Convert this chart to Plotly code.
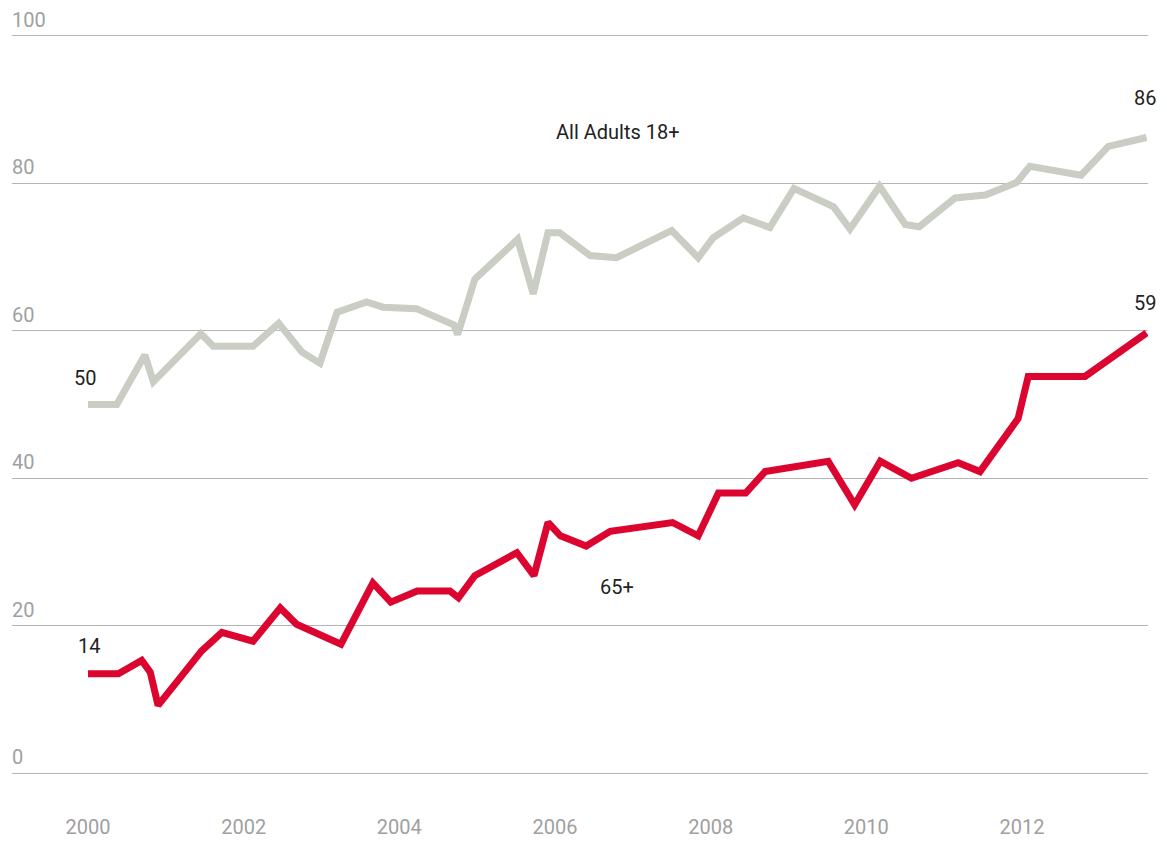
import plotly.graph_objects as go

# Data
adults_x = [2000.0, 2000.37, 2000.73, 2000.84, 2001.45, 2001.61, 2002.12, 2002.45, 2002.75, 2002.98,
            2003.2, 2003.58, 2003.79, 2004.22, 2004.70, 2004.75, 2004.97, 2005.52, 2005.72, 2005.91,
            2006.06, 2006.45, 2006.79, 2007.5, 2007.84, 2008.03, 2008.42, 2008.76, 2009.07, 2009.58,
            2009.79, 2010.17, 2010.5, 2010.68, 2011.14, 2011.53, 2011.93, 2012.1, 2012.76, 2013.11, 2013.6]
adults_y = [50, 50, 56.7, 53.1, 59.6, 57.9, 57.9, 61.0, 57.1, 55.6,
            62.5, 63.9, 63.2, 63.0, 60.8, 59.5, 67.0, 72.4, 65.0, 73.3,
            73.3, 70.2, 69.9, 73.6, 69.9, 72.6, 75.3, 74.0, 79.3, 76.8,
            73.8, 79.6, 74.4, 74.1, 78.0, 78.4, 80.1, 82.3, 81.1, 85.0, 86.2]

senior_x = [2000.0, 2000.39, 2000.69, 2000.8, 2000.9, 2001.46, 2001.72, 2002.12, 2002.47, 2002.68,
            2003.25, 2003.66, 2003.89, 2004.23, 2004.65, 2004.76, 2004.97, 2005.51, 2005.73, 2005.91,
            2006.07, 2006.4, 2006.71, 2007.51, 2007.84, 2008.1, 2008.45, 2008.7, 2009.51, 2009.85,
            2010.18, 2010.58, 2011.18, 2011.46, 2011.95, 2012.08, 2012.81, 2013.6]
senior_y = [13.5, 13.5, 15.3, 13.7, 9.2, 16.6, 19.1, 17.9, 22.4, 20.2,
            17.5, 25.8, 23.2, 24.7, 24.7, 23.8, 26.8, 29.9, 26.8, 34.0,
            32.2, 30.8, 32.8, 34.0, 32.2, 38.0, 38.0, 40.9, 42.3, 36.4,
            42.3, 40.0, 42.1, 40.9, 48.1, 53.8, 53.8, 59.7]

y_ticks = [0, 20, 40, 60, 80, 100]
x_ticks = [2000, 2002, 2004, 2006, 2008, 2010, 2012]
x_tick_labels = ["2000", "2002", "2004", "2006", "2008", "2010", "2012"]

series_labels = ["All Adults 18+", "65+"]
start_labels = ["50", "14"]
end_labels = ["86", "59"]

GRAY = "#c9cdc4"
RED = "#dc0530"
TXT = "#222222"
TICK = "#a0a0a0"
FONT = "Roboto, sans-serif"
FS = 20

fig = go.Figure()
fig.add_trace(go.Scatter(x=adults_x, y=adults_y, mode="lines",
                         line=dict(color=GRAY, width=7), hoverinfo="skip"))
fig.add_trace(go.Scatter(x=senior_x, y=senior_y, mode="lines",
                         line=dict(color=RED, width=7), hoverinfo="skip"))

ann = []
for v in y_ticks:
    ann.append(dict(xref="paper", x=0, y=v, yref="y", text=str(v), showarrow=False,
                    xanchor="left", yanchor="bottom", xshift=-1, yshift=3, borderpad=0,
                    font=dict(family=FONT, size=FS, color=TICK)))

ann.append(dict(x=2006.81, y=86.9, text=series_labels[0], showarrow=False,
                font=dict(family=FONT, size=FS, color=TXT)))
ann.append(dict(x=2006.8, y=25.2, text=series_labels[1], showarrow=False,
                font=dict(family=FONT, size=FS, color=TXT)))
ann.append(dict(x=adults_x[0] - 0.04, y=53.6, text=start_labels[0], showarrow=False,
                font=dict(family=FONT, size=FS, color=TXT)))
ann.append(dict(x=senior_x[0] + 0.01, y=17.3, text=start_labels[1], showarrow=False,
                font=dict(family=FONT, size=FS, color=TXT)))
ann.append(dict(x=adults_x[-1] - 0.02, y=91.5, text=end_labels[0], showarrow=False,
                font=dict(family=FONT, size=FS, color=TXT)))
ann.append(dict(x=senior_x[-1] - 0.02, y=63.7, text=end_labels[1], showarrow=False,
                font=dict(family=FONT, size=FS, color=TXT)))

# page body has an 8px margin, so the figure is shifted by (8, 8)
fig.update_layout(
    width=1159, height=835,
    margin=dict(l=4, r=19, t=13, b=51),
    paper_bgcolor="white", plot_bgcolor="white",
    showlegend=False,
    annotations=ann,
    xaxis=dict(range=[1999.0235, 2013.619], tickvals=x_ticks, ticktext=x_tick_labels,
               showgrid=False, zeroline=False, showline=False, ticks="",
               tickfont=dict(family=FONT, size=FS, color=TICK), ticklabelstandoff=25,
               fixedrange=True),
    yaxis=dict(range=[-2, 102], tickvals=y_ticks, showticklabels=False,
               showgrid=True, gridcolor="#b5b5b5", gridwidth=1, zeroline=False,
               showline=False, ticks="", fixedrange=True),
)

fig.write_html("out.html", config={"displayModeBar": False})
